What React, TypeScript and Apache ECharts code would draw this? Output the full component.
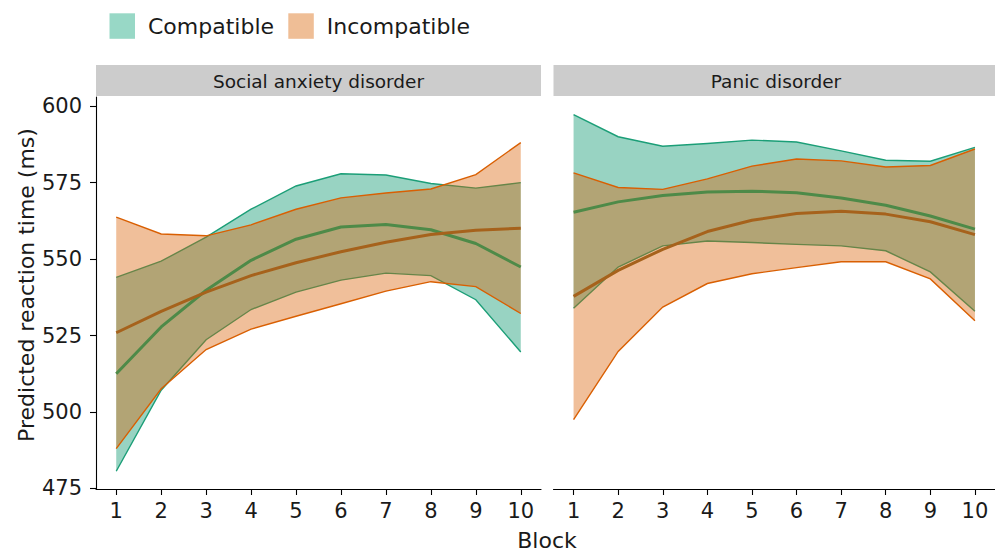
import React, { useEffect, useRef } from "react";
import * as echarts from "echarts";

// Blocks along the x axis
const blocks = [1, 2, 3, 4, 5, 6, 7, 8, 9, 10];
const yTicks = [475, 500, 525, 550, 575, 600];

// Social anxiety disorder
const sadCompMean = [512.5, 527.8, 539.8, 549.6, 556.5, 560.5, 561.3, 559.6, 555.1, 547.4];
const sadCompLower = [480.6, 507.1, 523.6, 533.5, 539.2, 543.1, 545.4, 544.6, 536.7, 519.6];
const sadCompUpper = [544.0, 549.3, 557.2, 566.3, 573.9, 577.9, 577.5, 574.7, 573.2, 575.0];
const sadIncMean = [525.9, 532.9, 539.2, 544.6, 548.8, 552.4, 555.5, 558.0, 559.4, 560.1];
const sadIncLower = [488.0, 507.6, 520.4, 527.1, 531.3, 535.4, 539.5, 542.6, 541.0, 532.2];
const sadIncUpper = [563.7, 558.2, 557.6, 561.2, 566.3, 570.0, 571.6, 572.9, 577.6, 588.1];

// Panic disorder
const pdCompMean = [565.3, 568.7, 570.8, 571.9, 572.2, 571.7, 570.0, 567.6, 564.1, 559.8];
const pdCompLower = [533.9, 547.4, 554.3, 555.9, 555.4, 554.8, 554.3, 552.7, 545.8, 532.9];
const pdCompUpper = [597.2, 590.0, 586.9, 587.8, 588.9, 588.3, 585.4, 582.3, 582.0, 586.5];
const pdIncMean = [537.8, 546.3, 553.2, 559.0, 562.7, 564.9, 565.6, 564.7, 562.2, 558.0];
const pdIncLower = [497.5, 519.8, 534.3, 542.0, 545.2, 547.2, 549.1, 549.1, 543.5, 529.8];
const pdIncUpper = [578.2, 573.4, 572.8, 576.2, 580.4, 582.7, 582.1, 580.1, 580.6, 586.0];

const panels = ["Social anxiety disorder", "Panic disorder"];
const groups = ["Compatible", "Incompatible"];

const FONT = "DejaVu Sans";
const TEXT = "#1a1a1a";
const GREEN = "#1B9E77";
const ORANGE = "#D95F02";
const GREEN_FILL = "rgba(27,158,119,0.45)";
const ORANGE_FILL = "rgba(217,95,2,0.4)";
const GREEN_MEAN = "#4E8A48";
const ORANGE_MEAN = "#A6621C";

const GRID_TOP = 97;
const GRID_H = 392;
const GRID_W = 445;
const GRID_LEFT = [96, 553.5];

// Confidence band: filled polygon between lower and upper, plus both edge lines
function ribbon(
  grid: number,
  lower: number[],
  upper: number[],
  line: string,
  fill: string
) {
  return {
    type: "custom",
    xAxisIndex: grid,
    yAxisIndex: grid,
    silent: true,
    data: blocks.map((b, i) => [b, lower[i], upper[i]]),
    encode: { x: 0, y: [1, 2] },
    renderItem: (params: any, api: any) => {
      if (params.dataIndex !== 0) return null;
      const up = blocks.map((b, i) => api.coord([b, upper[i]]));
      const lo = blocks.map((b, i) => api.coord([b, lower[i]]));
      return {
        type: "group",
        children: [
          {
            type: "polygon",
            shape: { points: [...up, ...lo.slice().reverse()] },
            style: { fill, stroke: "none" },
          },
          {
            type: "polyline",
            shape: { points: up },
            style: { stroke: line, lineWidth: 1.4, fill: "none" },
          },
          {
            type: "polyline",
            shape: { points: lo },
            style: { stroke: line, lineWidth: 1.4, fill: "none" },
          },
        ],
      };
    },
  };
}

function meanLine(grid: number, values: number[], color: string) {
  return {
    type: "line",
    xAxisIndex: grid,
    yAxisIndex: grid,
    symbol: "none",
    silent: true,
    data: blocks.map((b, i) => [b, values[i]]),
    lineStyle: { color, width: 3 },
  };
}

export default function App() {
  const ref = useRef<HTMLDivElement>(null);

  useEffect(() => {
    if (!ref.current) return;
    const chart = echarts.init(ref.current, null, { renderer: "svg" });

    const xAxes = [0, 1].map((g) => ({
      type: "value",
      gridIndex: g,
      min: 0.55,
      max: 10.45,
      axisLine: { show: true, onZero: false, lineStyle: { color: "#000", width: 1.1 } },
      axisTick: { show: true, length: 6, customValues: blocks, lineStyle: { color: "#000", width: 1.1 } },
      axisLabel: {
        customValues: blocks,
        fontSize: 21,
        fontFamily: FONT,
        color: TEXT,
        margin: 11,
      },
      splitLine: { show: false },
    }));

    const yAxes = [0, 1].map((g) => ({
      type: "value",
      gridIndex: g,
      min: 474.8,
      max: 603.0,
      show: g === 0,
      axisLine: { show: true, onZero: false, lineStyle: { color: "#000", width: 1.1 } },
      axisTick: { show: true, length: 6, customValues: yTicks, lineStyle: { color: "#000", width: 1.1 } },
      axisLabel: {
        customValues: yTicks,
        fontSize: 21,
        fontFamily: FONT,
        color: TEXT,
        margin: 14,
      },
      splitLine: { show: false },
    }));

    const series = [
      ribbon(0, sadCompLower, sadCompUpper, GREEN, GREEN_FILL),
      ribbon(0, sadIncLower, sadIncUpper, ORANGE, ORANGE_FILL),
      meanLine(0, sadCompMean, GREEN_MEAN),
      meanLine(0, sadIncMean, ORANGE_MEAN),
      ribbon(1, pdCompLower, pdCompUpper, GREEN, GREEN_FILL),
      ribbon(1, pdIncLower, pdIncUpper, ORANGE, ORANGE_FILL),
      meanLine(1, pdCompMean, GREEN_MEAN),
      meanLine(1, pdIncMean, ORANGE_MEAN),
    ];

    const strips = panels.flatMap((label, g) => [
      {
        type: "rect",
        shape: { x: GRID_LEFT[g], y: 65, width: GRID_W, height: 31 },
        style: { fill: "#CCCCCC" },
        silent: true,
      },
      {
        type: "text",
        x: GRID_LEFT[g] + GRID_W / 2,
        y: 81,
        style: {
          text: label,
          fontSize: 18.5,
          fontFamily: FONT,
          fill: TEXT,
          textAlign: "center",
          textVerticalAlign: "middle",
        },
        silent: true,
      },
    ]);

    const legendColors = ["#98D8C6", "#EFBE96"];
    const legendX = [109.5, 288.3];
    const legend = groups.flatMap((name, i) => [
      {
        type: "rect",
        shape: { x: legendX[i], y: 13.3, width: 25.5, height: 25.5 },
        style: { fill: legendColors[i] },
        silent: true,
      },
      {
        type: "text",
        x: legendX[i] + 38.5,
        y: 26,
        style: {
          text: name,
          fontSize: 22,
          fontFamily: FONT,
          fill: TEXT,
          textAlign: "left",
          textVerticalAlign: "middle",
        },
        silent: true,
      },
    ]);

    const titles = [
      {
        type: "text",
        x: 547,
        y: 540,
        style: {
          text: "Block",
          fontSize: 22,
          fontFamily: FONT,
          fill: TEXT,
          textAlign: "center",
          textVerticalAlign: "middle",
        },
        silent: true,
      },
      {
        type: "text",
        x: 26,
        y: 285,
        rotation: Math.PI / 2,
        style: {
          text: "Predicted reaction time (ms)",
          fontSize: 22,
          fontFamily: FONT,
          fill: TEXT,
          textAlign: "center",
          textVerticalAlign: "middle",
        },
        silent: true,
      },
    ];

    chart.setOption({
      animation: false,
      backgroundColor: "#ffffff",
      grid: GRID_LEFT.map((left) => ({
        left,
        top: GRID_TOP,
        width: GRID_W,
        height: GRID_H,
        containLabel: false,
      })),
      xAxis: xAxes,
      yAxis: yAxes,
      series,
      graphic: [...strips, ...legend, ...titles],
    });

    return () => chart.dispose();
  }, []);

  return (
    <div
      ref={ref}
      style={{ position: "absolute", left: 0, top: 0, width: 995, height: 551 }}
    />
  );
}
